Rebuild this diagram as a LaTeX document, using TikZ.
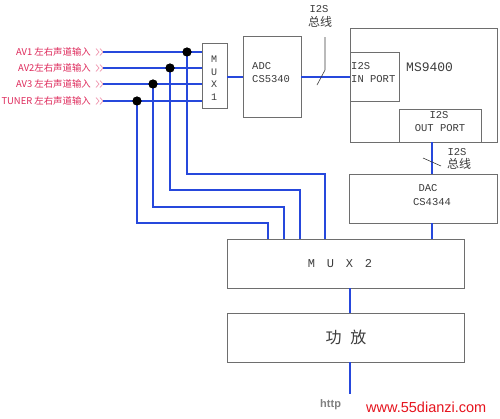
\documentclass[tikz,border=0pt]{standalone}
\usepackage{fontspec}
\usetikzlibrary{calc}
\setmainfont{Liberation Sans}
\setmonofont{Liberation Mono}
\newfontfamily\cjk{Noto Sans CJK SC}
\definecolor{busblue}{RGB}{38,72,220}
\definecolor{boxgray}{RGB}{110,110,110}
\definecolor{txtgray}{RGB}{60,60,60}
\definecolor{inred}{RGB}{222,40,90}
\definecolor{chevpink}{RGB}{240,150,175}
\definecolor{wmred}{RGB}{230,20,30}
\begin{document}
\begin{tikzpicture}[x=1pt,y=-1pt,
  box/.style={draw=boxgray, line width=0.8pt, inner sep=0pt, outer sep=0pt, anchor=north west},
  bus/.style={draw=busblue, line width=2.3pt},
  dotnode/.style={circle, fill=black, inner sep=0pt, minimum size=9pt},
  mono/.style={font=\ttfamily\fontsize{10.5}{12}\selectfont, text=txtgray, inner sep=0pt},
  inlabel/.style={font=\cjk\fontsize{9.4}{11}\selectfont, text=inred, anchor=east, inner sep=0pt},
  chev/.style={draw=chevpink, line width=0.7pt},
  lead/.style={draw=txtgray, line width=0.6pt}]
\useasboundingbox (0,0) rectangle (500,418);
\fill[white] (0,0) rectangle (500,418);

% boxes
\node[box, minimum width=25pt, minimum height=65pt] (mux1) at (202,43) {};
\node[box, minimum width=58pt, minimum height=81pt] (adc) at (243,36) {};
\node[box, minimum width=147pt, minimum height=114pt] (ms) at (350,28) {};
\node[box, minimum width=49pt, minimum height=49pt] (inport) at (350,52) {};
\node[box, minimum width=82pt, minimum height=33pt] (outport) at (399,109) {};
\node[box, minimum width=148pt, minimum height=49pt] (dac) at (349,174) {};
\node[box, minimum width=237pt, minimum height=49pt] (mux2) at (227,239) {};
\node[box, minimum width=237pt, minimum height=49pt] (amp) at (227,313) {};

% box texts
\node[mono, anchor=west] (tadc1) at (252,66) {ADC};
\node[mono, anchor=west] (tadc2) at (252,79) {CS5340};
\node[mono, anchor=west] (tin1) at (351,66) {I2S};
\node[mono, anchor=west] (tin2) at (351,79) {IN PORT};
\node[mono, anchor=west, font=\ttfamily\fontsize{13}{14}\selectfont] (tms) at (406,67) {MS9400};
\node[mono] (tout1) at (439,115) {I2S};
\node[mono] (tout2) at (440,128) {OUT PORT};
\node[mono] (tdac1) at (428,188) {DAC};
\node[mono] (tdac2) at (432,202) {CS4344};
\node[mono, font=\ttfamily\fontsize{12}{14}\selectfont] (tmux2) at (340,264) {M\hspace{11.8pt}U\hspace{11.8pt}X\hspace{11.8pt}2};
\node[font=\cjk\fontsize{16}{18}\selectfont, text=txtgray, inner sep=0pt] (tamp) at (346,337) {功\hspace{9pt}放};
\node[mono, font=\ttfamily\fontsize{10}{12}\selectfont] (tm1a) at (214,59) {M};
\node[mono, font=\ttfamily\fontsize{10}{12}\selectfont] (tm1b) at (214,72) {U};
\node[mono, font=\ttfamily\fontsize{10}{12}\selectfont] (tm1c) at (214,84) {X};
\node[mono, font=\ttfamily\fontsize{10}{12}\selectfont] (tm1d) at (214,97) {1};

% bus labels
\node[mono, font=\ttfamily\fontsize{10.5}{12}\selectfont] (ib1) at (319,9) {I2S};
\node[font=\cjk\fontsize{12}{13}\selectfont, text=txtgray, inner sep=0pt] (ib2) at (320,22) {总线};
\node[mono, font=\ttfamily\fontsize{10.5}{12}\selectfont] (ob1) at (457,152) {I2S};
\node[font=\cjk\fontsize{12}{13}\selectfont, text=txtgray, inner sep=0pt] (ob2) at (459,164) {总线};

% inputs
\coordinate (in1) at (103,52);
\coordinate (in2) at (103,68);
\coordinate (in3) at (103,84);
\coordinate (in4) at (103,101);
\node[inlabel] (l1) at (91,52) {AV1 左右声道输入};
\node[inlabel] (l2) at (91,68) {AV2左右声道输入};
\node[inlabel] (l3) at (91,84) {AV3 左右声道输入};
\node[inlabel] (l4) at (91,101) {TUNER 左右声道输入};
\foreach \c in {in1,in2,in3,in4}{
  \draw[chev] ($(\c)+(-7,-3.5)$) -- ($(\c)+(-4,0)$) -- ($(\c)+(-7,3.5)$);
  \draw[chev] ($(\c)+(-3,-3.5)$) -- ($(\c)+(0,0)$) -- ($(\c)+(-3,3.5)$);
}
\foreach \c in {in1,in2,in3,in4}{
  \draw[bus] (\c) -- (mux1.west |- \c);
}

% dots and routed taps
\node[dotnode] (d1) at (187,52) {};
\node[dotnode] (d2) at (170,68) {};
\node[dotnode] (d3) at (153,84) {};
\node[dotnode] (d4) at (137,101) {};
\coordinate (t1) at (325,174);
\coordinate (t2) at (300,190);
\coordinate (t3) at (284,207);
\coordinate (t4) at (268,223);
\draw[bus] (d1.center) |- (t1) -- (t1 |- mux2.north);
\draw[bus] (d2.center) |- (t2) -- (t2 |- mux2.north);
\draw[bus] (d3.center) |- (t3) -- (t3 |- mux2.north);
\draw[bus] (d4.center) |- (t4) -- (t4 |- mux2.north);
\node[dotnode] at (d1) {};
\node[dotnode] at (d2) {};
\node[dotnode] at (d3) {};
\node[dotnode] at (d4) {};

% main signal path
\coordinate (m1o) at (227,77);
\draw[bus] (m1o) -- (adc.west |- m1o);
\coordinate (ao) at (301,77);
\draw[bus] (ao) -- (inport.west |- ao);
\coordinate (op) at (432,142);
\draw[bus] (op) -- (op |- dac.north);
\draw[bus] (op |- dac.south) -- (op |- mux2.north);
\coordinate (mo) at (350,288);
\draw[bus] (mo) -- (mo |- amp.north);
\coordinate (ampo) at (350,362);
\coordinate (outend) at (350,394);
\draw[bus] (ampo) -- (outend);

% bus slashes
\draw[lead] (325,37) -- (325,70) -- (317,85);
\draw[lead] (423,158) -- (441,166);

% watermark
\node[font=\bfseries\fontsize{11}{12}\selectfont, text=gray, inner sep=0pt, anchor=west] (wm1) at (320,405) {http};
\node[font=\fontsize{14.5}{16}\selectfont, text=wmred, inner sep=0pt, anchor=west] (wm2) at (366,407) {www.55dianzi.com};
\end{tikzpicture}
\end{document}
